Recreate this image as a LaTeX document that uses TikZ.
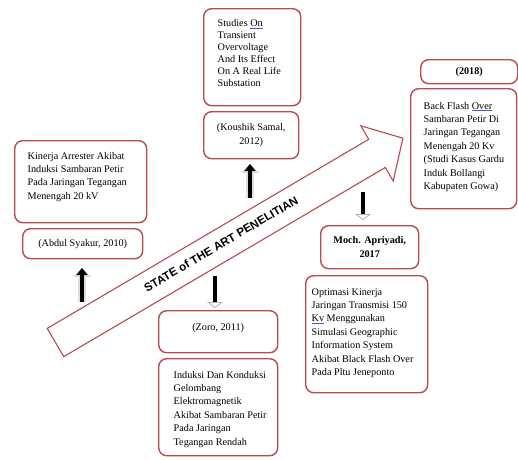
\documentclass[tikz,border=0pt]{standalone}
\usepackage{fontspec}
\setmainfont{Liberation Serif}
\newfontfamily\lblfont{Liberation Sans}
\usetikzlibrary{arrows.meta}
\definecolor{boxred}{RGB}{184,74,80}
\definecolor{ulblue}{RGB}{70,90,200}
\newcommand{\blu}[1]{{\color{ulblue}\underline{\color{black}#1}}}
\newcommand{\tbl}[3]{\parbox[c][#2pt][t]{#1pt}{\begin{tabular}[t]{@{}l@{}}#3\end{tabular}}}
\newcommand{\tbc}[3]{\parbox[c][#2pt][t]{#1pt}{\centering\begin{tabular}[t]{@{}c@{}}#3\end{tabular}}}
\begin{document}
\begin{tikzpicture}[x=1pt,y=-1pt,
  box/.style={draw=boxred, line width=1.4pt, rounded corners=8pt, fill=white, inner sep=0pt, anchor=north west, font=\fontsize{10.2}{13.4}\selectfont},
  cbox/.style={box, align=center},
  boldbox/.style={cbox, font=\fontsize{10.2}{13.4}\selectfont\bfseries},
  bigarrow/.style={draw=boxred, line width=1.1pt, fill=white, line join=miter},
  statelbl/.style={font=\lblfont\bfseries\fontsize{11.6}{12}\selectfont, inner sep=0pt},
  uparr/.style={draw=black, line width=4.5pt, -{Triangle[length=7pt,width=11pt]},
    preaction={draw=gray!25, line width=7.5pt, -{Triangle[length=9pt,width=18pt]}}},
  downarr/.style={draw=black, line width=4.5pt, -{Triangle[length=6pt,width=16pt,color=gray!60,fill=white,line width=0.8pt]}}
]
\useasboundingbox (0,0) rectangle (518,459);
\fill[white] (0,0) rectangle (518,459);

% big arrow
\coordinate (t1) at (47.2,328.4);
\coordinate (s1) at (368.7,139.3);
\coordinate (h1) at (360.8,125.8);
\coordinate (tip) at (402.9,138.2);
\coordinate (h2) at (393.2,181.0);
\coordinate (s2) at (385.3,167.5);
\coordinate (t2) at (63.8,356.6);
\draw[bigarrow] (t1) -- (s1) -- (h1) -- (tip) -- (h2) -- (s2) -- (t2) -- cycle;
\node[statelbl, rotate=30.5] (lbl) at (221,244) {STATE of THE ART PENELITIAN};

% boxes
\node[box, minimum width=132pt, minimum height=82pt] (kin) at (14,140)
  {\tbl{106}{63.8}{Kinerja Arrester Akibat\\Induksi Sambaran Petir\\Pada Jaringan Tegangan\\Menengah 20 kV}};
\node[cbox, minimum width=120pt, minimum height=30pt] (abd) at (22,228) {(Abdul Syakur, 2010)};

\node[box, minimum width=97pt, minimum height=97pt, font=\fontsize{10.2}{12}\selectfont] (stu) at (203,8)
  {\tbl{69}{78.8}{Studies \blu{On}\\Transient\\Overvoltage\\And Its Effect\\On A Real Life\\Substation}};
\node[cbox, minimum width=95pt, minimum height=47pt] (kou) at (203,111) {(Koushik Samal,\\2012)};

\node[boldbox, minimum width=97pt, minimum height=24pt] (y18) at (420,59) {(2018)};
\node[box, minimum width=106pt, minimum height=120pt] (bfo) at (410,88)
  {\tbl{80}{97.8}{Back Flash \blu{Over}\\Sambaran Petir Di\\Jaringan Tegangan\\Menengah 20 Kv\\(Studi Kasus Gardu\\Induk Bollangi\\Kabupaten Gowa)}};

\node[boldbox, minimum width=98pt, minimum height=43pt] (moc) at (320,225) {Moch. Apriyadi,\\2017};
\node[box, minimum width=122pt, minimum height=117pt] (opt) at (305,275)
  {\tbl{110}{96.8}{Optimasi Kinerja\\Jaringan Transmisi 150\\\blu{Kv} Menggunakan\\Simulasi Geographic\\Information System\\Akibat Black Flash Over\\Pada Pltu Jeneponto}};

\node[box, minimum width=119pt, minimum height=42pt] (zor) at (158,310)
  {\tbc{100}{21.8}{(Zoro, 2011)}};
\node[box, minimum width=119pt, minimum height=97pt] (ind) at (158,358)
  {\tbl{89}{76.8}{Induksi Dan Konduksi\\Gelombang\\Elektromagnetik\\Akibat Sambaran Petir\\Pada Jaringan\\Tegangan Rendah}};

% small arrows
\coordinate (a1b) at (82,302);
\coordinate (a1t) at (82,268);
\coordinate (a2b) at (250,198);
\coordinate (a2t) at (250,164);
\coordinate (a3t) at (215,276);
\coordinate (a3b) at (215,308);
\coordinate (a4t) at (363,192);
\coordinate (a4b) at (363,220);
\draw[uparr] (a1b) -- (a1t);
\draw[uparr] (a2b) -- (a2t);
\draw[downarr] (a3t) -- (a3b);
\draw[downarr] (a4t) -- (a4b);
\end{tikzpicture}
\end{document}
